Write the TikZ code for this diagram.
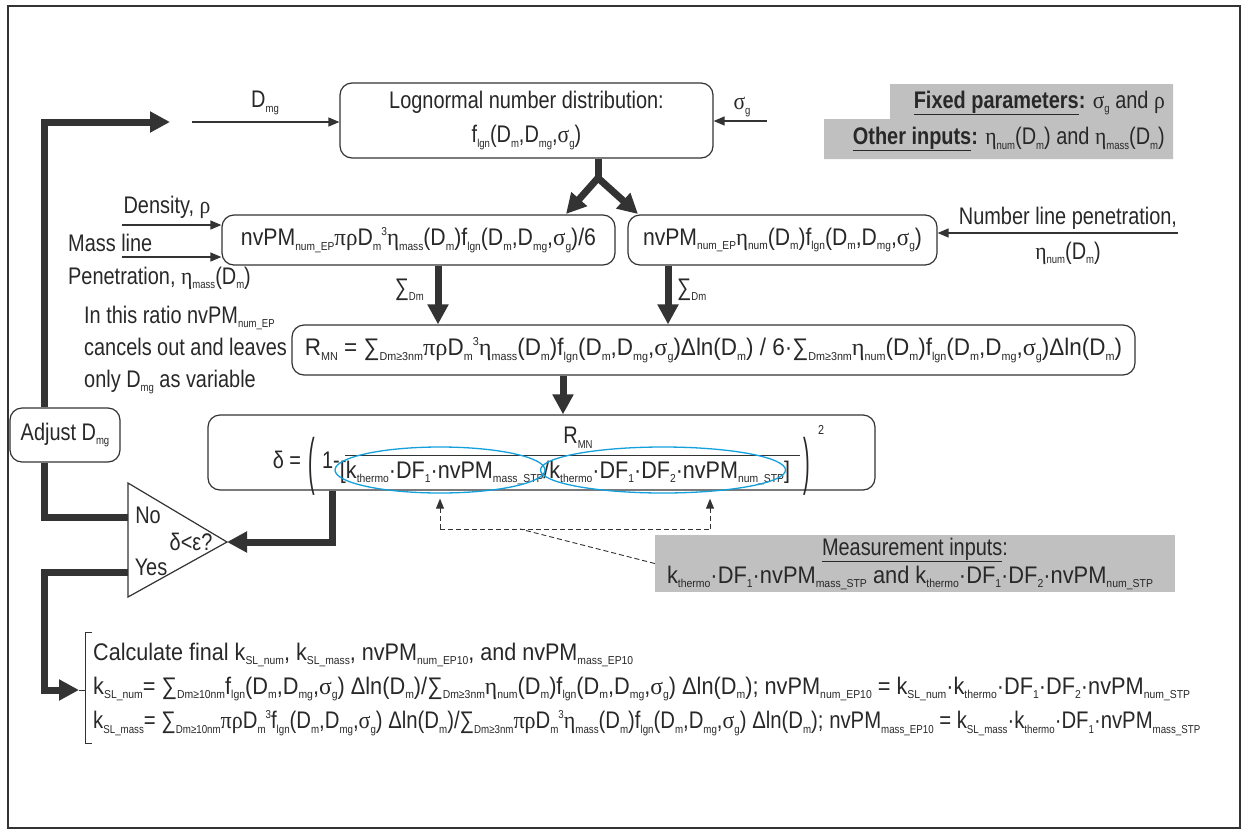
\documentclass[tikz,border=0pt]{standalone}
\usepackage{fontspec}
\setmainfont{Liberation Sans}[FakeStretch=0.83]
\newfontfamily\grf{Liberation Serif}[FakeStretch=0.9]
\usetikzlibrary{arrows.meta,shapes.geometric,calc}
\definecolor{ink}{RGB}{40,40,40}
\definecolor{lin}{RGB}{51,51,51}
\definecolor{gbox}{RGB}{192,192,192}
\definecolor{ellc}{RGB}{20,160,220}
\newcommand\lo[1]{\raisebox{-0.2em}{\fontsize{11.5}{12}\selectfont #1}}
\newcommand\hi[1]{\raisebox{0.45em}{\fontsize{11.5}{12}\selectfont #1}}
\newcommand\gk[1]{{\grf #1}}
\newcommand\fitw[2]{\resizebox{#1}{\height}{#2}}
\tikzset{
  txt/.style={inner sep=0pt, text=ink, font=\fontsize{24}{34}\selectfont},
  rbox/.style={draw=lin, line width=1.2pt, rounded corners=12pt, fill=white, inner sep=0pt, text=ink, font=\fontsize{24}{34}\selectfont, align=center},
  tharr/.style={draw=lin, line width=7pt, -{Triangle[length=20pt,width=20pt]}},
  thline/.style={draw=lin, line width=7pt},
  tnarr/.style={draw=lin, line width=1.3pt, -{Triangle[length=11pt,width=9pt]}},
  dsharr/.style={draw=lin, line width=0.9pt, dash pattern=on 5pt off 3pt, -{Triangle[length=10pt,width=8pt]}},
  dshline/.style={draw=lin, line width=0.9pt, dash pattern=on 5pt off 3pt},
  ell/.style={draw=ellc, line width=1.3pt, ellipse, inner sep=0pt},
}
\begin{document}
\begin{tikzpicture}[x=1pt,y=-1pt]
\useasboundingbox (0,0) rectangle (1246,833);
\draw[lin, line width=1.2pt] (8,6) rectangle (1240,828);

% grey box top right
\fill[gbox] (890,84) -- (1173,84) -- (1173,159) -- (824,159) -- (824,119) -- (890,119) -- cycle;
\node[txt, anchor=east] (fixed) at (1165,103) {\underline{\textbf{Fixed parameters}}\textbf{:} \gk{σ}\lo{g} and \gk{ρ}};
\node[txt, anchor=east] (other) at (1165,139) {\underline{\textbf{Other inputs}}\textbf{:} \gk{η}\lo{num}(D\lo{m}) and \gk{η}\lo{mass}(D\lo{m})};

% boxes
\node[rbox, minimum width=373pt, minimum height=75pt] (logn) at (526.5,120.5)
  {Lognormal number distribution:\\ f\lo{lgn}(D\lo{m},D\lo{mg},\gk{σ}\lo{g})};
\node[rbox, minimum width=393pt, minimum height=50pt] (mass) at (418.5,240)
  {\fitw{355pt}{nvPM\lo{num\_EP}\gk{πρ}D\lo{m}\hi{3}\gk{η}\lo{mass}(D\lo{m})f\lo{lgn}(D\lo{m},D\lo{mg},\gk{σ}\lo{g})/6}};
\node[rbox, minimum width=309pt, minimum height=50pt] (num) at (782.5,240)
  {\fitw{279pt}{nvPM\lo{num\_EP}\gk{η}\lo{num}(D\lo{m})f\lo{lgn}(D\lo{m},D\lo{mg},\gk{σ}\lo{g})}};
\node[rbox, minimum width=843pt, minimum height=50pt] (rmn) at (713.5,350)
  {\fitw{817pt}{R\lo{MN} = ∑\lo{Dm≥3nm}\gk{πρ}D\lo{m}\hi{3}\gk{η}\lo{mass}(D\lo{m})f\lo{lgn}(D\lo{m},D\lo{mg},\gk{σ}\lo{g})Δln(D\lo{m}) / 6·∑\lo{Dm≥3nm}\gk{η}\lo{num}(D\lo{m})f\lo{lgn}(D\lo{m},D\lo{mg},\gk{σ}\lo{g})Δln(D\lo{m})}};
\node[rbox, minimum width=667pt, minimum height=75pt] (delta) at (541.5,452.5) {};
\node[rbox, minimum width=110pt, minimum height=54pt] (adjust) at (65,435) {Adjust D\lo{mg}};

% delta formula
\node[txt] (dlt) at (287,460) {δ =};
\node[txt] (lp) at (312,466) {\scalebox{1}[2.6]{(}};
\node[txt] (one) at (331,460) {1-};
\node[txt] (num2) at (578,438) {R\lo{MN}};
\draw[lin, line width=1pt] (345,455) coordinate (fb1) -- (800,455) coordinate (fb2);
\node[txt] (den) at (565,473) {\fitw{450pt}{[k\lo{thermo}·DF\lo{1}·nvPM\lo{mass\_STP}/k\lo{thermo}·DF\lo{1}·DF\lo{2}·nvPM\lo{num\_STP}]}};
\node[txt] (rp) at (807,466) {\scalebox{1}[2.6]{)}};
\node[txt, font=\fontsize{13}{13}\selectfont] (sq) at (821,430) {2};
\node[ell, minimum width=210pt, minimum height=46pt] (ell1) at (440,470) {};
\node[ell, minimum width=245pt, minimum height=46pt] (ell2) at (663,470) {};

% measurement box
\node[fill=gbox, minimum width=520pt, minimum height=57pt, inner sep=0pt] (meas) at (915,563.5) {};
\node[txt] (meas1) at (915,550) {\underline{Measurement inputs}:};
\node[txt] (meas2) at (910,578) {\fitw{486pt}{k\lo{thermo}·DF\lo{1}·nvPM\lo{mass\_STP} and k\lo{thermo}·DF\lo{1}·DF\lo{2}·nvPM\lo{num\_STP}}};

% dashed
\coordinate (dj1) at (440,529);
\coordinate (dj2) at (710,529);
\coordinate (dj3) at (520,529);
\draw[dshline] (dj1) -- (dj2);
\draw[dsharr] (dj1) -- ($(ell1.south)+(0,5)$);
\draw[dsharr] (dj2) -- ($(dj2 |- ell2.south)+(0,5)$);
\draw[dshline] (meas.west) -- (dj3);

% triangle
\coordinate (t1) at (128,483);
\coordinate (t2) at (128,597);
\coordinate (tip) at (227,542);
\draw[lin, line width=1.2pt, fill=white] (t1) -- (tip) -- (t2) -- cycle;
\node[txt] (no) at (148,515) {No};
\node[txt] (cond) at (191,542) {δ<ε?};
\node[txt] (yes) at (151,567) {Yes};

% thick connectors
\coordinate (lx) at (44,0);
\coordinate (loopend) at (170,122);
\draw[tharr] (adjust.north -| lx) |- (loopend);
\draw[thline] (adjust.south -| lx) |- (128,517);
\coordinate (fork) at (598,178);
\draw[thline] (logn.south -| fork) -- (fork);
\draw[tharr] (fork) -- (566,214);
\draw[tharr] (fork) -- (638,214);
\draw[tharr] (mass.south -| 438,0) -- (rmn.north -| 438,0);
\draw[tharr] (num.south -| 668,0) -- (rmn.north -| 668,0);
\draw[tharr] (rmn.south -| 563,0) -- (delta.north -| 563,0);
\draw[tharr] (delta.south -| 332,0) |- (tip);
\coordinate (brk) at (79,690);
\draw[tharr] (128,572) -| (44,690) -- (brk);

% bracket
\draw[lin, line width=1pt] (brk) -- (85,690);
\draw[lin, line width=1pt] (92,632) -- (85,632) -- (85,743) -- (92,743);

% thin arrows + labels
\coordinate (dmgs) at (192,122);
\draw[tnarr] (dmgs) -- (logn.west |- dmgs);
\node[txt] (dmg) at (265,103) {D\lo{mg}};
\coordinate (sgs) at (767,121);
\draw[tnarr] (sgs) -- (logn.east |- sgs);
\node[txt] (sg) at (742,107) {\gk{σ}\lo{g}};
\coordinate (dens) at (122,225);
\draw[tnarr] (dens) -- (mass.west |- dens);
\coordinate (mls) at (122,257);
\draw[tnarr] (mls) -- (mass.west |- mls);
\node[txt] (denstxt) at (167,207) {Density, \gk{ρ}};
\node[txt, anchor=west] (ml) at (68,243) {Mass line};
\node[txt, anchor=west] (pen) at (68,278) {Penetration, \gk{η}\lo{mass}(D\lo{m})};
\coordinate (nls) at (1178,233);
\draw[tnarr] (nls) -- (num.east |- nls);
\node[txt] (nl1) at (1068,218) {Number line penetration,};
\node[txt] (nl2) at (1068,253) {\gk{η}\lo{num}(D\lo{m})};
\node[txt, anchor=east] (s1) at (424,290) {∑\lo{Dm}};
\node[txt, anchor=west] (s2) at (677,290) {∑\lo{Dm}};
\node[txt, anchor=west, align=left, font=\fontsize{24}{32}\selectfont] (ratio) at (84,350)
  {In this ratio nvPM\lo{num\_EP}\\cancels out and leaves\\only D\lo{mg} as variable};

% bottom
\node[txt, anchor=west] (calc) at (93,655) {\fitw{540pt}{Calculate final k\lo{SL\_num}, k\lo{SL\_mass}, nvPM\lo{num\_EP10}, and nvPM\lo{mass\_EP10}}};
\node[txt, anchor=west] (ksn) at (93,689) {\fitw{1097pt}{k\lo{SL\_num}= ∑\lo{Dm≥10nm}f\lo{lgn}(D\lo{m},D\lo{mg},\gk{σ}\lo{g}) Δln(D\lo{m})/∑\lo{Dm≥3nm}\gk{η}\lo{num}(D\lo{m})f\lo{lgn}(D\lo{m},D\lo{mg},\gk{σ}\lo{g}) Δln(D\lo{m}); nvPM\lo{num\_EP10} = k\lo{SL\_num}·k\lo{thermo}·DF\lo{1}·DF\lo{2}·nvPM\lo{num\_STP}}};
\node[txt, anchor=west] (ksm) at (93,723) {\fitw{1107pt}{k\lo{SL\_mass}= ∑\lo{Dm≥10nm}\gk{πρ}D\lo{m}\hi{3}f\lo{lgn}(D\lo{m},D\lo{mg},\gk{σ}\lo{g}) Δln(D\lo{m})/∑\lo{Dm≥3nm}\gk{πρ}D\lo{m}\hi{3}\gk{η}\lo{mass}(D\lo{m})f\lo{lgn}(D\lo{m},D\lo{mg},\gk{σ}\lo{g}) Δln(D\lo{m}); nvPM\lo{mass\_EP10} = k\lo{SL\_mass}·k\lo{thermo}·DF\lo{1}·nvPM\lo{mass\_STP}}};
\end{tikzpicture}
\end{document}
